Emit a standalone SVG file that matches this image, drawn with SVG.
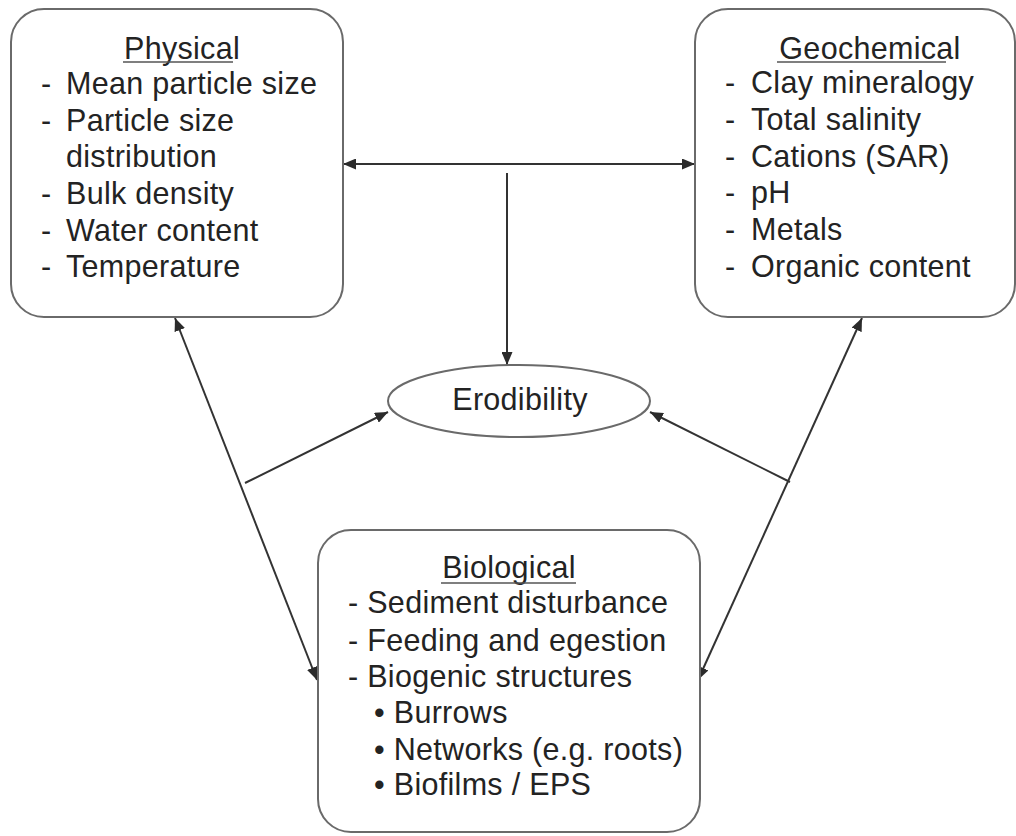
<svg xmlns="http://www.w3.org/2000/svg" width="1016" height="836" viewBox="0 0 1016 836">
<style>
.box{fill:#fff;stroke:#6a6a6a;stroke-width:2}
.t{font-family:"Liberation Sans",Arial,sans-serif;font-size:30.5px;letter-spacing:0.3px;fill:#232323}
.ttl{text-anchor:middle}
.ul{stroke:#555;stroke-width:1.5}
.c{stroke:#333;stroke-width:2;fill:none}
</style>
<defs>
<marker id="ah" markerUnits="userSpaceOnUse" markerWidth="13" markerHeight="11" refX="13" refY="5.5" orient="auto-start-reverse">
<path d="M0,0 L13,5.5 L0,11 z" fill="#2b2b2b"/>
</marker>
</defs>
<rect width="1016" height="836" fill="#fff"/>
<g id="connectors">
<line class="c" x1="343" y1="164" x2="695" y2="164" marker-start="url(#ah)" marker-end="url(#ah)"/>
<line class="c" x1="507" y1="173" x2="507" y2="365" marker-end="url(#ah)"/>
<line class="c" x1="175" y1="318" x2="317" y2="680" marker-start="url(#ah)" marker-end="url(#ah)"/>
<line class="c" x1="245" y1="483" x2="388" y2="412" marker-end="url(#ah)"/>
<line class="c" x1="862" y1="318" x2="698" y2="680" marker-start="url(#ah)" marker-end="url(#ah)"/>
<line class="c" x1="790" y1="482" x2="650" y2="412" marker-end="url(#ah)"/>
</g>
<g id="physical">
<rect class="box" x="11" y="9" width="332" height="308" rx="33" ry="33"/>
<text class="t ttl" x="182" y="59">Physical</text>
<line class="ul" x1="123" y1="62" x2="233" y2="62"/>
<text class="t" x="41" y="94">-</text><text class="t" x="66" y="94">Mean particle size</text>
<text class="t" x="41" y="131">-</text><text class="t" x="66" y="131">Particle size</text>
<text class="t" x="66" y="167">distribution</text>
<text class="t" x="41" y="204">-</text><text class="t" x="66" y="204">Bulk density</text>
<text class="t" x="41" y="241">-</text><text class="t" x="66" y="241">Water content</text>
<text class="t" x="41" y="277">-</text><text class="t" x="66" y="277">Temperature</text>
</g>
<g id="geochemical">
<rect class="box" x="695" y="9" width="320" height="308" rx="33" ry="33"/>
<text class="t ttl" x="870" y="59">Geochemical</text>
<line class="ul" x1="777" y1="62" x2="946" y2="62"/>
<text class="t" x="725" y="93">-</text><text class="t" x="751" y="93">Clay mineralogy</text>
<text class="t" x="725" y="130">-</text><text class="t" x="751" y="130">Total salinity</text>
<text class="t" x="725" y="167">-</text><text class="t" x="751" y="167">Cations (SAR)</text>
<text class="t" x="725" y="203">-</text><text class="t" x="751" y="203">pH</text>
<text class="t" x="725" y="240">-</text><text class="t" x="751" y="240">Metals</text>
<text class="t" x="725" y="277">-</text><text class="t" x="751" y="277">Organic content</text>
</g>
<g id="erodibility">
<ellipse class="box" cx="519" cy="401" rx="131" ry="36"/>
<text class="t ttl" x="520" y="410">Erodibility</text>
</g>
<g id="biological">
<rect class="box" x="318" y="530" width="382" height="302" rx="33" ry="33"/>
<text class="t ttl" x="509" y="578">Biological</text>
<line class="ul" x1="441" y1="583" x2="576" y2="583"/>
<text class="t" x="348" y="613">- Sediment disturbance</text>
<text class="t" x="348" y="651">- Feeding and egestion</text>
<text class="t" x="348" y="687">- Biogenic structures</text>
<text class="t" x="374" y="723">• Burrows</text>
<text class="t" x="374" y="760">• Networks (e.g. roots)</text>
<text class="t" x="374" y="795">• Biofilms / EPS</text>
</g>
</svg>
